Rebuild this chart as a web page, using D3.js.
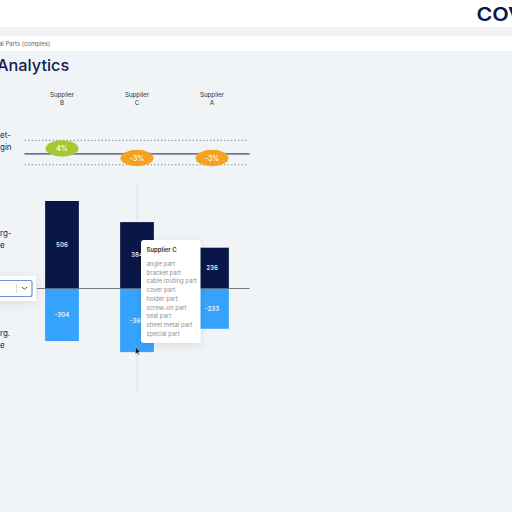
<!doctype html>
<html>
<head>
<meta charset="utf-8">
<script src="https://cdnjs.cloudflare.com/ajax/libs/d3/7.8.5/d3.min.js"></script>
<style>
html, body { margin: 0; padding: 0; background: #f1f4f6; }
svg { display: block; font-family: Inter, "Noto Sans", sans-serif; }
</style>
</head>
<body>
<svg id="chart" width="512" height="512"></svg>
<script>
var suppliers = ["Supplier B", "Supplier C", "Supplier A"];
var margins = [4, -3, -3];
var thresholds = [10, -8];
var savings = [506, 384, 236];
var costs = [-304, -368, -233];
var parts = ["angle part", "bracket part", "cable routing part", "cover part", "holder part",
  "screw-on part", "seal part", "sheet metal part", "special part"];

var svg = d3.select("#chart");
var navy = "#091748", blue = "#35a3fd";

// page chrome
svg.append("rect").attr("width", 512).attr("height", 27).attr("fill", "#fff");
svg.append("rect").attr("y", 27).attr("width", 512).attr("height", 9).attr("fill", "#f1f2f3");
svg.append("rect").attr("y", 36).attr("width", 512).attr("height", 15).attr("fill", "#fff");
svg.append("text").attr("x", -1).attr("y", 46).attr("font-size", 6).attr("fill", "#666").text("al Parts (complex)");
svg.append("text").attr("x", -3).attr("y", 71).attr("font-size", 16.3).attr("font-weight", 500)
  .attr("fill", "#141c50").text("Analytics");
svg.append("text").attr("transform", "translate(476.5,20.5) scale(1.13,1)").attr("font-size", 19).attr("font-weight", 600)
  .attr("fill", "#091748").text("COV");

var x = d3.scaleBand().domain(suppliers).range([24.5, 249.5]).paddingInner(0.55).paddingOuter(0.275);
var y = d3.scaleLinear().domain([0, 506]).range([288.5, 201]);
var m = d3.scaleLinear().domain([-3, 4]).range([158, 148.5]);
var cx = function(s) { return x(s) + x.bandwidth() / 2; };

// supplier heads
suppliers.forEach(function(s) {
  var t = svg.append("text").attr("text-anchor", "middle").attr("font-size", 6.2).attr("font-weight", 400).attr("fill", "#333");
  s.split(" ").forEach(function(w, i) {
    t.append("tspan").attr("x", cx(s)).attr("y", 97 + i * 7.7).text(w);
  });
});

// margin band
thresholds.forEach(function(v) {
  svg.append("line").attr("x1", 24.5).attr("x2", 248).attr("y1", m(v)).attr("y2", m(v))
    .attr("stroke", "#8d8f96").attr("stroke-dasharray", "1.5 2");
});
svg.append("line").attr("x1", 24.5).attr("x2", 249.5).attr("y1", m(0)).attr("y2", m(0))
  .attr("stroke", "#3f4577").attr("stroke-width", 1.2);

svg.selectAll("ellipse").data(suppliers).enter().append("ellipse")
  .attr("cx", cx).attr("cy", function(d, i) { return m(margins[i]); })
  .attr("rx", 16.5).attr("ry", 8.3)
  .attr("fill", function(d, i) { return margins[i] > 0 ? "#a6c832" : "#f3a31f"; });
svg.selectAll(".mlabel").data(suppliers).enter().append("text").attr("class", "mlabel")
  .attr("x", cx).attr("y", function(d, i) { return m(margins[i]) + 2.6; })
  .attr("text-anchor", "middle").attr("font-size", 7).attr("font-weight", 500).attr("fill", "#fff")
  .text(function(d, i) { return margins[i] + "%"; });

// crosshair behind bars
svg.append("line").attr("x1", cx("Supplier C")).attr("x2", cx("Supplier C")).attr("y1", 184).attr("y2", 392)
  .attr("stroke", "#dcdee1");

// bars
svg.selectAll(".up").data(suppliers).enter().append("rect").attr("class", "up")
  .attr("x", function(d) { return x(d); }).attr("width", x.bandwidth())
  .attr("y", function(d, i) { return y(savings[i]); })
  .attr("height", function(d, i) { return y(0) - y(savings[i]); })
  .attr("fill", navy);
svg.selectAll(".down").data(suppliers).enter().append("rect").attr("class", "down")
  .attr("x", function(d) { return x(d); }).attr("width", x.bandwidth())
  .attr("y", y(0))
  .attr("height", function(d, i) { return y(costs[i]) - y(0); })
  .attr("fill", blue);
svg.append("line").attr("x1", 37).attr("x2", 249.5).attr("y1", y(0)).attr("y2", y(0))
  .attr("stroke", "#5b6068").attr("stroke-width", 0.8);

svg.selectAll(".uplabel").data(suppliers).enter().append("text").attr("class", "uplabel")
  .attr("x", cx).attr("y", function(d, i) { return y(savings[i] / 2) + 2.2; })
  .attr("text-anchor", "middle").attr("font-size", 6.2).attr("font-weight", 600).attr("fill", "#dfe3ee")
  .text(function(d, i) { return savings[i]; });
svg.selectAll(".downlabel").data(suppliers).enter().append("text").attr("class", "downlabel")
  .attr("x", cx).attr("y", function(d, i) { return y(costs[i] / 2) + 2.2; })
  .attr("text-anchor", "middle").attr("font-size", 6.2).attr("font-weight", 600).attr("fill", "#e4f2ff")
  .text(function(d, i) { return costs[i]; });

// left labels
[["et-", 138], ["gin", 150], ["rg-", 236], ["e", 248], ["rg.", 336], ["e", 348]].forEach(function(d) {
  svg.append("text").attr("x", 0).attr("y", d[1]).attr("font-size", 8).attr("font-weight", 400).attr("fill", "#141c50").text(d[0]);
});

// dropdown
var defs = svg.append("defs");
var f = defs.append("filter").attr("id", "sh").attr("x", "-30%").attr("y", "-30%").attr("width", "160%").attr("height", "170%");
f.append("feDropShadow").attr("dx", 0).attr("dy", 2).attr("stdDeviation", 4).attr("flood-color", "#000").attr("flood-opacity", 0.1);
svg.append("rect").attr("x", -10).attr("y", 276).attr("width", 46).attr("height", 25).attr("fill", "#fff").attr("filter", "url(#sh)");
svg.append("rect").attr("x", -10).attr("y", 280.5).attr("width", 42).attr("height", 16).attr("rx", 2)
  .attr("fill", "#fff").attr("stroke", "#6f93d6").attr("stroke-width", 1.2);
svg.append("line").attr("x1", 16.5).attr("x2", 16.5).attr("y1", 284).attr("y2", 293).attr("stroke", "#ddd");
svg.append("path").attr("d", d3.line()([[22, 287], [24.5, 289.5], [27, 287]])).attr("fill", "none").attr("stroke", "#555");

// tooltip
var tip = svg.append("g").attr("transform", "translate(141,240)");
tip.append("rect").attr("width", 59.5).attr("height", 103).attr("rx", 3).attr("fill", "#fff").attr("filter", "url(#sh)");
tip.append("text").attr("x", 5.5).attr("y", 11.5).attr("font-size", 6).attr("font-weight", 600).attr("fill", "#333").text(suppliers[1]);
tip.selectAll(".part").data(parts).enter().append("text").attr("class", "part")
  .attr("x", 5.5).attr("y", function(d, i) { return 26 + i * 8.73; })
  .attr("font-size", 6).attr("fill", "#8f8f8f").text(function(d) { return d; });

// cursor
svg.append("path").attr("d", "M135.5 347 l0 7 l1.6 -1.4 l1.2 2.4 l1 -.5 l-1.2 -2.3 l2 -.2 z")
  .attr("fill", "#111").attr("stroke", "#fff").attr("stroke-width", 0.3);
</script>
</body>
</html>
